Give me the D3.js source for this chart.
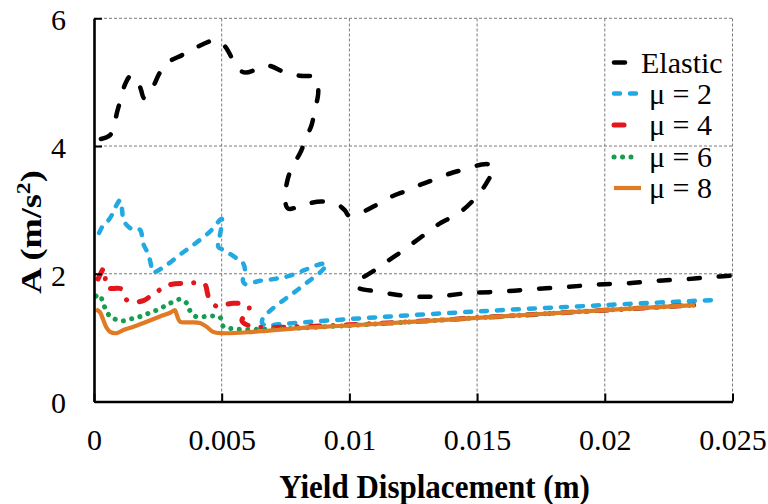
<!DOCTYPE html>
<html>
<head>
<meta charset="utf-8">
<script src="https://cdn.jsdelivr.net/npm/d3@7"></script>
<style>
  html, body { margin: 0; padding: 0; background: #fff; }
  svg { display: block; }
  svg text { font-family: 'Liberation Serif', 'Times New Roman', Times, 'DejaVu Serif'; fill: #000; }
</style>
</head>
<body>
<svg id="chart" width="768" height="504"></svg>
<script>
// Yield displacement (m) vs. acceleration A (m/s²) for an elastic system and ductility ratios μ = 2, 4, 6, 8
const xTicks = [0, 0.005, 0.01, 0.015, 0.02, 0.025];
const xTickLabels = ["0", "0.005", "0.01", "0.015", "0.02", "0.025"];
const yTicks = [0, 2, 4, 6];
const yTickLabels = ["0", "2", "4", "6"];
const seriesNames = ["Elastic", "μ = 2", "μ = 4", "μ = 6", "μ = 8"];

const elasticX = [0.00027, 0.00063, 0.00078, 0.00091, 0.00108, 0.00121, 0.00141, 0.00167, 0.00184, 0.00196,
  0.00226, 0.00258, 0.00290, 0.00348, 0.00403, 0.00461, 0.00478, 0.00513, 0.00544, 0.00578,
  0.00595, 0.00637, 0.00681, 0.00754, 0.00807, 0.00854, 0.00872, 0.00878, 0.00865, 0.00852,
  0.00833, 0.00807, 0.00774, 0.00755, 0.00748, 0.00760, 0.00807, 0.00838, 0.00895, 0.00955,
  0.00983, 0.00998, 0.01053, 0.01107, 0.01166, 0.01224, 0.01276, 0.01335, 0.01394, 0.01446,
  0.01518, 0.01550, 0.01566, 0.01544, 0.01505, 0.01445, 0.01406, 0.01347, 0.01303, 0.01249,
  0.01205, 0.01146, 0.01100, 0.01042, 0.01022, 0.01034, 0.01112, 0.01171, 0.01229, 0.01296,
  0.01355, 0.01472, 0.01596, 0.01719, 0.01844, 0.01962, 0.02086, 0.02208, 0.02334, 0.02420, 0.02498];
const elasticY = [4.11, 4.17, 4.32, 4.54, 4.78, 4.96, 5.09, 5.07, 4.88, 4.75,
  4.89, 5.15, 5.31, 5.43, 5.55, 5.65, 5.66, 5.56, 5.35, 5.17,
  5.15, 5.20, 5.26, 5.14, 5.10, 5.09, 5.04, 4.83, 4.57, 4.33,
  4.15, 3.89, 3.66, 3.42, 3.16, 3.02, 3.06, 3.10, 3.13, 3.08,
  2.99, 2.91, 2.97, 3.08, 3.21, 3.30, 3.39, 3.48, 3.57, 3.63,
  3.71, 3.71, 3.66, 3.47, 3.24, 3.00, 2.90, 2.77, 2.64, 2.48,
  2.35, 2.19, 2.06, 1.91, 1.83, 1.78, 1.72, 1.68, 1.65, 1.64,
  1.65, 1.70, 1.72, 1.76, 1.79, 1.83, 1.85, 1.89, 1.92, 1.95, 1.97];

const mu2X = [0.00020, 0.00039, 0.00055, 0.00070, 0.00086, 0.00102, 0.00110, 0.00116, 0.00148, 0.00180,
  0.00192, 0.00213, 0.00226, 0.00231, 0.00285, 0.00337, 0.00395, 0.00454, 0.00500, 0.00500,
  0.00491, 0.00487, 0.00509, 0.00559, 0.00583, 0.00591, 0.00583, 0.00591, 0.00650, 0.00709,
  0.00767, 0.00826, 0.00877, 0.00910, 0.00893, 0.00846, 0.00791, 0.00740, 0.00689, 0.00662,
  0.00658, 0.00673, 0.00728, 0.00998, 0.01500, 0.02001, 0.02431];
const mu2Y = [2.64, 2.78, 2.83, 2.92, 3.06, 3.15, 3.00, 2.83, 2.70, 2.69,
  2.48, 2.30, 2.09, 2.02, 2.14, 2.30, 2.47, 2.66, 2.86, 2.77,
  2.56, 2.42, 2.37, 2.24, 2.17, 2.06, 1.89, 1.84, 1.89, 1.92,
  1.97, 2.06, 2.14, 2.16, 2.05, 1.90, 1.73, 1.58, 1.42, 1.31,
  1.23, 1.19, 1.21, 1.29, 1.41, 1.51, 1.59];

const mu4X = [0.00016, 0.00027, 0.00039, 0.00045, 0.00051, 0.00078, 0.00102, 0.00115, 0.00128, 0.00161,
  0.00193, 0.00246, 0.00298, 0.00363, 0.00415, 0.00435, 0.00444, 0.00450, 0.00480, 0.00509,
  0.00545, 0.00604, 0.00607, 0.00579, 0.00599, 0.00634, 0.00681, 0.00807, 0.00998, 0.01500,
  0.02001, 0.02349];
const mu4Y = [1.92, 2.01, 2.09, 1.90, 1.78, 1.77, 1.77, 1.72, 1.59, 1.56,
  1.58, 1.72, 1.83, 1.85, 1.86, 1.83, 1.70, 1.62, 1.49, 1.51,
  1.54, 1.50, 1.42, 1.27, 1.20, 1.17, 1.16, 1.17, 1.20, 1.31,
  1.43, 1.51];

const mu6X = [0.00008, 0.00023, 0.00035, 0.00050, 0.00063, 0.00082, 0.00108, 0.00141, 0.00173, 0.00206,
  0.00239, 0.00271, 0.00304, 0.00337, 0.00363, 0.00376, 0.00399, 0.00435, 0.00467, 0.00493,
  0.00505, 0.00539, 0.00650, 0.00998, 0.01500, 0.02001, 0.02349];
const mu6Y = [1.65, 1.67, 1.54, 1.41, 1.33, 1.29, 1.26, 1.29, 1.32, 1.37,
  1.42, 1.48, 1.55, 1.60, 1.54, 1.42, 1.33, 1.33, 1.34, 1.32,
  1.18, 1.14, 1.13, 1.19, 1.31, 1.43, 1.51];

const mu8X = [0.00008, 0.00023, 0.00036, 0.00050, 0.00063, 0.00089, 0.00115, 0.00154, 0.00206, 0.00258,
  0.00298, 0.00317, 0.00324, 0.00337, 0.00376, 0.00415, 0.00441, 0.00467, 0.00500, 0.00623,
  0.00807, 0.00998, 0.01500, 0.02001, 0.02353];
const mu8Y = [1.44, 1.40, 1.28, 1.15, 1.09, 1.07, 1.12, 1.17, 1.25, 1.33,
  1.39, 1.43, 1.36, 1.25, 1.24, 1.23, 1.17, 1.09, 1.07, 1.09,
  1.15, 1.19, 1.31, 1.43, 1.51];

const seriesX = [elasticX, mu2X, mu4X, mu6X, mu8X];
const seriesY = [elasticY, mu2Y, mu4Y, mu6Y, mu8Y];

// Line styles per series
const styles = [
  { color: "#000000", width: 4.5, dash: "11,19", cap: "round", legendEnd: 629 },
  { color: "#22A9E1", width: 4.5, dash: "6,10", cap: "round", legendEnd: 638 },
  { color: "#E3161B", width: 5, dash: "10,13,0.1,13", cap: "round", legendEnd: 627 },
  { color: "#159D50", width: 5, dash: "0.1,8.4", cap: "round", legendEnd: 631 },
  { color: "#E07A24", width: 4.2, dash: null, cap: "butt", legendEnd: 641 }
];

const FONT = "'Liberation Serif', 'Times New Roman', Times, 'DejaVu Serif'";

const svg = d3.select("#chart");
const x = d3.scaleLinear().domain([0, 0.025]).range([94, 732.5]);
const y = d3.scaleLinear().domain([0, 6]).range([401.5, 18.3]);

// Dashed gridlines
const grid = svg.append("g").attr("stroke", "#7a7a7a").attr("stroke-width", 1).attr("stroke-dasharray", "3,2");
grid.selectAll("line.v").data(xTicks.slice(1)).join("line")
  .attr("x1", d => x(d)).attr("x2", d => x(d))
  .attr("y1", y(0)).attr("y2", y(6));
grid.selectAll("line.h").data(yTicks.slice(1)).join("line")
  .attr("x1", x(0)).attr("x2", x(0.025))
  .attr("y1", d => y(d)).attr("y2", d => y(d));

// Series lines
const line = d3.line()
  .x(d => x(d[0])).y(d => y(d[1]))
  .curve(d3.curveCatmullRom.alpha(0.5));

seriesX.forEach((xs, i) => {
  const pts = xs.map((v, j) => [v, seriesY[i][j]]);
  const s = styles[i];
  svg.append("path")
    .datum(pts)
    .attr("d", line)
    .attr("fill", "none")
    .attr("stroke", s.color)
    .attr("stroke-width", s.width)
    .attr("stroke-linecap", s.cap)
    .attr("stroke-linejoin", "round")
    .attr("stroke-dasharray", s.dash);
});

// Axes
const xAxis = d3.axisBottom(x).tickValues(xTicks)
  .tickFormat((d, i) => xTickLabels[i]).tickSizeInner(-8).tickSizeOuter(0).tickPadding(27);
const yAxis = d3.axisLeft(y).tickValues(yTicks)
  .tickFormat((d, i) => yTickLabels[i]).tickSizeInner(-8).tickSizeOuter(0).tickPadding(28);

const gx = svg.append("g").attr("transform", `translate(0,${y(0)})`).call(xAxis);
const gy = svg.append("g").attr("transform", `translate(${x(0)},0)`).call(yAxis);
[gx, gy].forEach(g => {
  g.attr("font-family", FONT).attr("font-size", 30);
  g.select(".domain").attr("stroke", "#000").attr("stroke-width", 2.6);
  g.selectAll(".tick line").attr("stroke", "#000").attr("stroke-width", 2);
  g.selectAll(".tick text").style("font-family", FONT).style("font-size", "30px").attr("fill", "#000");
});
gy.selectAll(".tick text").attr("dy", "0.38em");

// Axis titles
svg.append("text")
  .attr("transform", "translate(434.5,498) scale(0.94,1)")
  .attr("text-anchor", "middle")
  .style("font-family", FONT)
  .style("font-size", "33px").style("font-weight", "bold")
  .text("Yield Displacement (m)");

const yTitle = svg.append("text")
  .attr("transform", "translate(41,232) rotate(-90) scale(1.25,1)")
  .attr("text-anchor", "middle")
  .style("font-family", FONT)
  .style("font-size", "29px").style("font-weight", "bold");
yTitle.append("tspan").text("A (m/s");
yTitle.append("tspan").style("font-size", "19px").attr("dy", -11).text("2");
yTitle.append("tspan").attr("dy", 11).text(")");

// Legend
const legendBase = [72.5, 103.5, 135, 167, 198];
const legendTextX = [641, 649, 649, 649, 649];
const legend = svg.append("g");
seriesNames.forEach((name, i) => {
  const s = styles[i];
  const ly = legendBase[i] - 10;
  legend.append("line")
    .attr("x1", 614).attr("x2", s.legendEnd)
    .attr("y1", ly).attr("y2", ly)
    .attr("stroke", s.color)
    .attr("stroke-width", s.width)
    .attr("stroke-linecap", s.cap)
    .attr("stroke-dasharray", s.dash);
  legend.append("text")
    .attr("x", legendTextX[i]).attr("y", legendBase[i])
    .style("font-family", FONT)
    .style("font-size", "30px")
    .text(name);
});
</script>
</body>
</html>
